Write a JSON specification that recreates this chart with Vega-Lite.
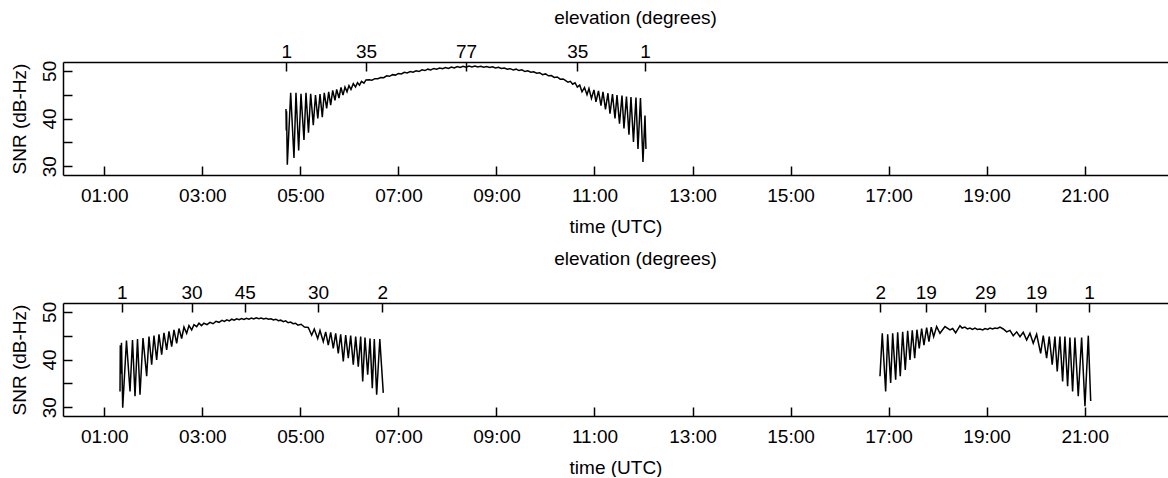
{
  "$schema": "https://vega.github.io/schema/vega-lite/v6.json",
  "padding": {"left": 10, "top": 8, "right": 0, "bottom": 0},
  "spacing": 13,
  "datasets": {
    "pass1": [
      {"time": 4.706, "snr": 42.0}, {"time": 4.712, "snr": 37.5}, {"time": 4.718, "snr": 41.5}, {"time": 4.733, "snr": 30.3},
      {"time": 4.802, "snr": 45.4}, {"time": 4.869, "snr": 31.7}, {"time": 4.910, "snr": 45.4}, {"time": 4.965, "snr": 33.3},
      {"time": 5.012, "snr": 45.2}, {"time": 5.073, "snr": 35.5}, {"time": 5.114, "snr": 45.4}, {"time": 5.165, "snr": 37.0},
      {"time": 5.210, "snr": 45.2}, {"time": 5.263, "snr": 38.6}, {"time": 5.308, "snr": 44.9}, {"time": 5.355, "snr": 40.0},
      {"time": 5.400, "snr": 45.1}, {"time": 5.447, "snr": 40.3}, {"time": 5.487, "snr": 45.4}, {"time": 5.536, "snr": 42.1},
      {"time": 5.577, "snr": 45.6}, {"time": 5.618, "snr": 42.8}, {"time": 5.659, "snr": 45.9}, {"time": 5.706, "snr": 43.8},
      {"time": 5.740, "snr": 46.1}, {"time": 5.787, "snr": 44.3}, {"time": 5.828, "snr": 46.5}, {"time": 5.869, "snr": 44.9},
      {"time": 5.910, "snr": 46.6}, {"time": 5.951, "snr": 45.6}, {"time": 5.991, "snr": 46.9}, {"time": 6.032, "snr": 46.1},
      {"time": 6.079, "snr": 47.3}, {"time": 6.124, "snr": 46.6}, {"time": 6.165, "snr": 47.5}, {"time": 6.206, "snr": 47.0},
      {"time": 6.246, "snr": 47.8}, {"time": 6.297, "snr": 47.4}, {"time": 6.338, "snr": 48.1},
      {"time": 6.40, "snr": 48.15}, {"time": 6.46, "snr": 48.05}, {"time": 6.52, "snr": 48.35}, {"time": 6.58, "snr": 48.35},
      {"time": 6.64, "snr": 48.6}, {"time": 6.70, "snr": 48.55}, {"time": 6.76, "snr": 48.95}, {"time": 6.82, "snr": 48.85},
      {"time": 6.88, "snr": 49.2}, {"time": 6.94, "snr": 49.1}, {"time": 7.00, "snr": 49.45}, {"time": 7.06, "snr": 49.35},
      {"time": 7.12, "snr": 49.7}, {"time": 7.18, "snr": 49.55}, {"time": 7.24, "snr": 49.85}, {"time": 7.30, "snr": 49.7},
      {"time": 7.36, "snr": 50.0}, {"time": 7.42, "snr": 49.85}, {"time": 7.48, "snr": 50.2}, {"time": 7.54, "snr": 50.05},
      {"time": 7.60, "snr": 50.35}, {"time": 7.66, "snr": 50.2}, {"time": 7.72, "snr": 50.5}, {"time": 7.78, "snr": 50.35},
      {"time": 7.84, "snr": 50.6}, {"time": 7.90, "snr": 50.45}, {"time": 7.96, "snr": 50.7}, {"time": 8.02, "snr": 50.5},
      {"time": 8.08, "snr": 50.8}, {"time": 8.14, "snr": 50.6}, {"time": 8.20, "snr": 50.9}, {"time": 8.26, "snr": 50.7},
      {"time": 8.32, "snr": 50.95}, {"time": 8.38, "snr": 50.75}, {"time": 8.44, "snr": 51.0}, {"time": 8.50, "snr": 50.8},
      {"time": 8.56, "snr": 51.0}, {"time": 8.62, "snr": 50.8}, {"time": 8.68, "snr": 50.95}, {"time": 8.74, "snr": 50.75},
      {"time": 8.80, "snr": 50.9}, {"time": 8.86, "snr": 50.7}, {"time": 8.92, "snr": 50.85}, {"time": 8.98, "snr": 50.6},
      {"time": 9.04, "snr": 50.75}, {"time": 9.10, "snr": 50.5}, {"time": 9.16, "snr": 50.6}, {"time": 9.22, "snr": 50.35},
      {"time": 9.28, "snr": 50.45}, {"time": 9.34, "snr": 50.2}, {"time": 9.40, "snr": 50.35}, {"time": 9.46, "snr": 50.05},
      {"time": 9.52, "snr": 50.2}, {"time": 9.58, "snr": 49.85}, {"time": 9.64, "snr": 50.0}, {"time": 9.70, "snr": 49.7},
      {"time": 9.76, "snr": 49.8}, {"time": 9.82, "snr": 49.5}, {"time": 9.88, "snr": 49.6}, {"time": 9.94, "snr": 49.2},
      {"time": 10.00, "snr": 49.35}, {"time": 10.06, "snr": 48.95}, {"time": 10.12, "snr": 49.0}, {"time": 10.18, "snr": 48.6},
      {"time": 10.24, "snr": 48.7}, {"time": 10.30, "snr": 48.25}, {"time": 10.36, "snr": 48.3}, {"time": 10.42, "snr": 47.9},
      {"time": 10.460, "snr": 47.6}, {"time": 10.508, "snr": 47.8}, {"time": 10.555, "snr": 47.2},
      {"time": 10.603, "snr": 47.5}, {"time": 10.650, "snr": 46.6}, {"time": 10.698, "snr": 47.0}, {"time": 10.745, "snr": 45.6},
      {"time": 10.796, "snr": 46.5}, {"time": 10.847, "snr": 45.0}, {"time": 10.887, "snr": 46.3}, {"time": 10.938, "snr": 44.2},
      {"time": 10.989, "snr": 46.0}, {"time": 11.030, "snr": 43.5}, {"time": 11.081, "snr": 45.8}, {"time": 11.132, "snr": 42.7},
      {"time": 11.173, "snr": 45.6}, {"time": 11.224, "snr": 41.9}, {"time": 11.275, "snr": 45.3}, {"time": 11.316, "snr": 41.0},
      {"time": 11.367, "snr": 45.1}, {"time": 11.418, "snr": 40.0}, {"time": 11.459, "snr": 44.9}, {"time": 11.510, "snr": 38.9},
      {"time": 11.561, "snr": 44.8}, {"time": 11.601, "snr": 37.9}, {"time": 11.652, "snr": 44.6}, {"time": 11.703, "snr": 36.6},
      {"time": 11.744, "snr": 44.5}, {"time": 11.795, "snr": 35.1}, {"time": 11.846, "snr": 44.4}, {"time": 11.887, "snr": 33.6},
      {"time": 11.938, "snr": 44.3}, {"time": 11.989, "snr": 30.9}, {"time": 12.030, "snr": 40.6}, {"time": 12.050, "snr": 33.6}
    ],
    "pass2": [
      {"pass": "a", "time": 1.320, "snr": 33.3}, {"pass": "a", "time": 1.326, "snr": 43.0}, {"pass": "a", "time": 1.340, "snr": 37.0},
      {"pass": "a", "time": 1.350, "snr": 43.5}, {"pass": "a", "time": 1.375, "snr": 29.9}, {"pass": "a", "time": 1.452, "snr": 44.0},
      {"pass": "a", "time": 1.524, "snr": 33.3}, {"pass": "a", "time": 1.575, "snr": 44.1}, {"pass": "a", "time": 1.626, "snr": 32.3},
      {"pass": "a", "time": 1.677, "snr": 44.3}, {"pass": "a", "time": 1.728, "snr": 32.6}, {"pass": "a", "time": 1.789, "snr": 44.5},
      {"pass": "a", "time": 1.864, "snr": 36.5}, {"pass": "a", "time": 1.911, "snr": 44.8}, {"pass": "a", "time": 1.966, "snr": 38.9},
      {"pass": "a", "time": 2.013, "snr": 45.0}, {"pass": "a", "time": 2.068, "snr": 39.9}, {"pass": "a", "time": 2.115, "snr": 45.3},
      {"pass": "a", "time": 2.170, "snr": 41.0}, {"pass": "a", "time": 2.217, "snr": 45.6}, {"pass": "a", "time": 2.272, "snr": 42.0},
      {"pass": "a", "time": 2.319, "snr": 45.9}, {"pass": "a", "time": 2.374, "snr": 42.7}, {"pass": "a", "time": 2.421, "snr": 46.2},
      {"pass": "a", "time": 2.476, "snr": 43.4}, {"pass": "a", "time": 2.523, "snr": 46.5}, {"pass": "a", "time": 2.578, "snr": 44.4},
      {"pass": "a", "time": 2.625, "snr": 46.8}, {"pass": "a", "time": 2.680, "snr": 45.5}, {"pass": "a", "time": 2.727, "snr": 47.1},
      {"pass": "a", "time": 2.782, "snr": 46.2}, {"pass": "a", "time": 2.829, "snr": 47.3}, {"pass": "a", "time": 2.884, "snr": 46.9},
      {"pass": "a", "time": 2.931, "snr": 47.6}, {"pass": "a", "time": 2.982, "snr": 47.1}, {"pass": "a", "time": 3.033, "snr": 47.6},
      {"pass": "a", "time": 3.095, "snr": 47.3}, {"pass": "a", "time": 3.156, "snr": 47.8}, {"pass": "a", "time": 3.217, "snr": 47.5},
      {"pass": "a", "time": 3.278, "snr": 48.0}, {"pass": "a", "time": 3.339, "snr": 47.8}, {"pass": "a", "time": 3.401, "snr": 48.2},
      {"pass": "a", "time": 3.45, "snr": 48.0}, {"pass": "a", "time": 3.50, "snr": 48.3}, {"pass": "a", "time": 3.55, "snr": 48.1},
      {"pass": "a", "time": 3.60, "snr": 48.45}, {"pass": "a", "time": 3.65, "snr": 48.25}, {"pass": "a", "time": 3.70, "snr": 48.55},
      {"pass": "a", "time": 3.75, "snr": 48.35}, {"pass": "a", "time": 3.80, "snr": 48.6}, {"pass": "a", "time": 3.85, "snr": 48.4},
      {"pass": "a", "time": 3.90, "snr": 48.65}, {"pass": "a", "time": 3.95, "snr": 48.45}, {"pass": "a", "time": 4.00, "snr": 48.7},
      {"pass": "a", "time": 4.05, "snr": 48.5}, {"pass": "a", "time": 4.10, "snr": 48.75}, {"pass": "a", "time": 4.15, "snr": 48.55},
      {"pass": "a", "time": 4.20, "snr": 48.7}, {"pass": "a", "time": 4.25, "snr": 48.5}, {"pass": "a", "time": 4.30, "snr": 48.65},
      {"pass": "a", "time": 4.35, "snr": 48.45}, {"pass": "a", "time": 4.40, "snr": 48.55}, {"pass": "a", "time": 4.45, "snr": 48.3},
      {"pass": "a", "time": 4.50, "snr": 48.45}, {"pass": "a", "time": 4.55, "snr": 48.15}, {"pass": "a", "time": 4.60, "snr": 48.25},
      {"pass": "a", "time": 4.65, "snr": 47.95}, {"pass": "a", "time": 4.70, "snr": 48.1}, {"pass": "a", "time": 4.75, "snr": 47.7},
      {"pass": "a", "time": 4.80, "snr": 47.85}, {"pass": "a", "time": 4.85, "snr": 47.5}, {"pass": "a", "time": 4.90, "snr": 47.6},
      {"pass": "a", "time": 4.95, "snr": 47.2}, {"pass": "a", "time": 5.013, "snr": 47.4},
      {"pass": "a", "time": 5.083, "snr": 46.8}, {"pass": "a", "time": 5.161, "snr": 46.7}, {"pass": "a", "time": 5.230, "snr": 45.1},
      {"pass": "a", "time": 5.283, "snr": 46.4}, {"pass": "a", "time": 5.353, "snr": 44.4}, {"pass": "a", "time": 5.400, "snr": 46.1},
      {"pass": "a", "time": 5.467, "snr": 43.75}, {"pass": "a", "time": 5.516, "snr": 45.8}, {"pass": "a", "time": 5.569, "snr": 43.0},
      {"pass": "a", "time": 5.618, "snr": 45.7}, {"pass": "a", "time": 5.671, "snr": 42.35}, {"pass": "a", "time": 5.720, "snr": 45.5},
      {"pass": "a", "time": 5.773, "snr": 41.3}, {"pass": "a", "time": 5.822, "snr": 45.3}, {"pass": "a", "time": 5.875, "snr": 39.6},
      {"pass": "a", "time": 5.924, "snr": 45.1}, {"pass": "a", "time": 5.977, "snr": 40.3}, {"pass": "a", "time": 6.026, "snr": 45.0},
      {"pass": "a", "time": 6.079, "snr": 38.9}, {"pass": "a", "time": 6.128, "snr": 44.8}, {"pass": "a", "time": 6.181, "snr": 38.5},
      {"pass": "a", "time": 6.230, "snr": 44.8}, {"pass": "a", "time": 6.271, "snr": 35.4}, {"pass": "a", "time": 6.318, "snr": 44.6},
      {"pass": "a", "time": 6.373, "snr": 36.8}, {"pass": "a", "time": 6.420, "snr": 44.4}, {"pass": "a", "time": 6.467, "snr": 34.0},
      {"pass": "a", "time": 6.508, "snr": 44.3}, {"pass": "a", "time": 6.556, "snr": 32.6}, {"pass": "a", "time": 6.620, "snr": 44.3},
      {"pass": "a", "time": 6.691, "snr": 33.0},
      {"pass": "b", "time": 16.824, "snr": 36.5}, {"pass": "b", "time": 16.871, "snr": 45.5}, {"pass": "b", "time": 16.940, "snr": 33.3},
      {"pass": "b", "time": 16.981, "snr": 45.3}, {"pass": "b", "time": 17.042, "snr": 35.1}, {"pass": "b", "time": 17.083, "snr": 45.5},
      {"pass": "b", "time": 17.144, "snr": 35.75}, {"pass": "b", "time": 17.185, "snr": 45.7}, {"pass": "b", "time": 17.238, "snr": 36.5},
      {"pass": "b", "time": 17.287, "snr": 45.8}, {"pass": "b", "time": 17.340, "snr": 37.8}, {"pass": "b", "time": 17.389, "snr": 46.0},
      {"pass": "b", "time": 17.436, "snr": 39.9}, {"pass": "b", "time": 17.483, "snr": 46.1}, {"pass": "b", "time": 17.532, "snr": 40.3},
      {"pass": "b", "time": 17.578, "snr": 46.25}, {"pass": "b", "time": 17.625, "snr": 42.35}, {"pass": "b", "time": 17.674, "snr": 46.5},
      {"pass": "b", "time": 17.721, "snr": 43.0}, {"pass": "b", "time": 17.776, "snr": 46.7}, {"pass": "b", "time": 17.823, "snr": 43.75},
      {"pass": "b", "time": 17.870, "snr": 46.8}, {"pass": "b", "time": 17.919, "snr": 44.8}, {"pass": "b", "time": 17.980, "snr": 46.9},
      {"pass": "b", "time": 18.048, "snr": 45.5}, {"pass": "b", "time": 18.150, "snr": 46.9}, {"pass": "b", "time": 18.252, "snr": 46.2},
      {"pass": "b", "time": 18.307, "snr": 46.5}, {"pass": "b", "time": 18.368, "snr": 45.6}, {"pass": "b", "time": 18.456, "snr": 47.1},
      {"pass": "b", "time": 18.500, "snr": 46.6}, {"pass": "b", "time": 18.558, "snr": 46.8}, {"pass": "b", "time": 18.610, "snr": 46.4},
      {"pass": "b", "time": 18.660, "snr": 46.6}, {"pass": "b", "time": 18.710, "snr": 46.3}, {"pass": "b", "time": 18.762, "snr": 46.6},
      {"pass": "b", "time": 18.810, "snr": 46.3}, {"pass": "b", "time": 18.864, "snr": 46.4}, {"pass": "b", "time": 18.920, "snr": 46.2},
      {"pass": "b", "time": 18.966, "snr": 46.5}, {"pass": "b", "time": 19.020, "snr": 46.3}, {"pass": "b", "time": 19.068, "snr": 46.6},
      {"pass": "b", "time": 19.120, "snr": 46.4}, {"pass": "b", "time": 19.170, "snr": 46.6}, {"pass": "b", "time": 19.220, "snr": 46.5},
      {"pass": "b", "time": 19.272, "snr": 46.8}, {"pass": "b", "time": 19.339, "snr": 46.4}, {"pass": "b", "time": 19.409, "snr": 45.8},
      {"pass": "b", "time": 19.476, "snr": 46.1}, {"pass": "b", "time": 19.543, "snr": 45.0}, {"pass": "b", "time": 19.613, "snr": 45.8},
      {"pass": "b", "time": 19.680, "snr": 44.8}, {"pass": "b", "time": 19.747, "snr": 45.7}, {"pass": "b", "time": 19.817, "snr": 44.1},
      {"pass": "b", "time": 19.884, "snr": 45.5}, {"pass": "b", "time": 19.951, "snr": 43.4}, {"pass": "b", "time": 20.020, "snr": 45.3},
      {"pass": "b", "time": 20.102, "snr": 41.3}, {"pass": "b", "time": 20.155, "snr": 45.0}, {"pass": "b", "time": 20.224, "snr": 40.3},
      {"pass": "b", "time": 20.277, "snr": 44.8}, {"pass": "b", "time": 20.338, "snr": 38.9}, {"pass": "b", "time": 20.393, "snr": 44.8},
      {"pass": "b", "time": 20.440, "snr": 37.5}, {"pass": "b", "time": 20.495, "snr": 44.8}, {"pass": "b", "time": 20.550, "snr": 35.4},
      {"pass": "b", "time": 20.597, "snr": 44.8}, {"pass": "b", "time": 20.652, "snr": 34.4}, {"pass": "b", "time": 20.699, "snr": 44.6},
      {"pass": "b", "time": 20.754, "snr": 33.3}, {"pass": "b", "time": 20.801, "snr": 44.6}, {"pass": "b", "time": 20.869, "snr": 32.3},
      {"pass": "b", "time": 20.938, "snr": 44.6}, {"pass": "b", "time": 21.006, "snr": 30.2}, {"pass": "b", "time": 21.074, "snr": 45.0},
      {"pass": "b", "time": 21.123, "snr": 31.3}
    ],
    "elev1": [
      {"time": 4.71, "elevation": "1"}, {"time": 6.34, "elevation": "35"}, {"time": 8.38, "elevation": "77"},
      {"time": 10.65, "elevation": "35"}, {"time": 12.03, "elevation": "1"}
    ],
    "elev2": [
      {"time": 1.355, "elevation": "1"}, {"time": 2.78, "elevation": "30"}, {"time": 3.865, "elevation": "45"},
      {"time": 5.36, "elevation": "30"}, {"time": 6.67, "elevation": "2"}, {"time": 16.83, "elevation": "2"},
      {"time": 17.76, "elevation": "19"}, {"time": 18.97, "elevation": "29"}, {"time": 20.01, "elevation": "19"},
      {"time": 21.09, "elevation": "1"}
    ]
  },
  "vconcat": [
    {
      "width": 1105,
      "height": 113,
      "layer": [
        {
          "data": {"name": "pass1"},
          "mark": {"type": "line", "color": "black", "strokeWidth": 1.5},
          "encoding": {
            "x": {"field": "time", "type": "quantitative",
                  "scale": {"domain": [0.157, 22.70], "nice": false, "zero": false},
                  "axis": {"orient": "bottom", "title": "time (UTC)", "values": [1, 3, 5, 7, 9, 11, 13, 15, 17, 19, 21],
                           "labelExpr": "(datum.value < 10 ? '0' : '') + datum.value + ':00'",
                           "labelPadding": 20, "titlePadding": 12}},
            "y": {"field": "snr", "type": "quantitative",
                  "scale": {"domain": [28.15, 51.85], "nice": false, "zero": false},
                  "axis": {"title": "SNR (dB-Hz)", "values": [30, 35, 40, 45, 50],
                           "labelExpr": "datum.value % 10 == 0 ? datum.label : ''",
                           "labelAngle": 270, "labelAlign": "center", "labelBaseline": "bottom",
                           "labelPadding": 13, "titlePadding": 11}}
          }
        },
        {
          "data": {"name": "elev1"},
          "mark": {"type": "point", "opacity": 0},
          "encoding": {
            "x": {"field": "time", "type": "quantitative",
                  "axis": {"orient": "top", "title": "elevation (degrees)", "titleX": 572,
                           "values": [4.71, 6.34, 8.38, 10.65, 12.03],
                           "labelExpr": "['1','35','77','35','1'][indexof([4.71, 6.34, 8.38, 10.65, 12.03], datum.value)]",
                           "labelPadding": 10, "titlePadding": 15}}
          }
        }
      ],
      "resolve": {"axis": {"x": "independent"}}
    },
    {
      "width": 1105,
      "height": 113,
      "layer": [
        {
          "data": {"name": "pass2"},
          "mark": {"type": "line", "color": "black", "strokeWidth": 1.5},
          "encoding": {
            "x": {"field": "time", "type": "quantitative",
                  "scale": {"domain": [0.157, 22.70], "nice": false, "zero": false},
                  "axis": {"orient": "bottom", "title": "time (UTC)", "values": [1, 3, 5, 7, 9, 11, 13, 15, 17, 19, 21],
                           "labelExpr": "(datum.value < 10 ? '0' : '') + datum.value + ':00'",
                           "labelPadding": 20, "titlePadding": 12}},
            "y": {"field": "snr", "type": "quantitative",
                  "scale": {"domain": [28.15, 51.85], "nice": false, "zero": false},
                  "axis": {"title": "SNR (dB-Hz)", "values": [30, 35, 40, 45, 50],
                           "labelExpr": "datum.value % 10 == 0 ? datum.label : ''",
                           "labelAngle": 270, "labelAlign": "center", "labelBaseline": "bottom",
                           "labelPadding": 13, "titlePadding": 11}},
            "detail": {"field": "pass"}
          }
        },
        {
          "data": {"name": "elev2"},
          "mark": {"type": "point", "opacity": 0},
          "encoding": {
            "x": {"field": "time", "type": "quantitative",
                  "axis": {"orient": "top", "title": "elevation (degrees)", "titleX": 572,
                           "values": [1.355, 2.78, 3.865, 5.36, 6.67, 16.83, 17.76, 18.97, 20.01, 21.09],
                           "labelExpr": "['1','30','45','30','2','2','19','29','19','1'][indexof([1.355, 2.78, 3.865, 5.36, 6.67, 16.83, 17.76, 18.97, 20.01, 21.09], datum.value)]",
                           "labelPadding": 10, "titlePadding": 15}}
          }
        }
      ],
      "resolve": {"axis": {"x": "independent"}}
    }
  ],
  "config": {
    "view": {"stroke": null},
    "font": "Liberation Sans",
    "axis": {
      "labelFont": "Liberation Sans", "titleFont": "Liberation Sans",
      "labelFontSize": 19, "titleFontSize": 19, "titleFontWeight": "normal",
      "labelColor": "black", "titleColor": "black",
      "domainColor": "black", "tickColor": "black", "domainWidth": 1.5, "tickWidth": 1.5,
      "tickSize": -9, "grid": false, "labelFlush": false, "labelOverlap": false
    }
  }
}
